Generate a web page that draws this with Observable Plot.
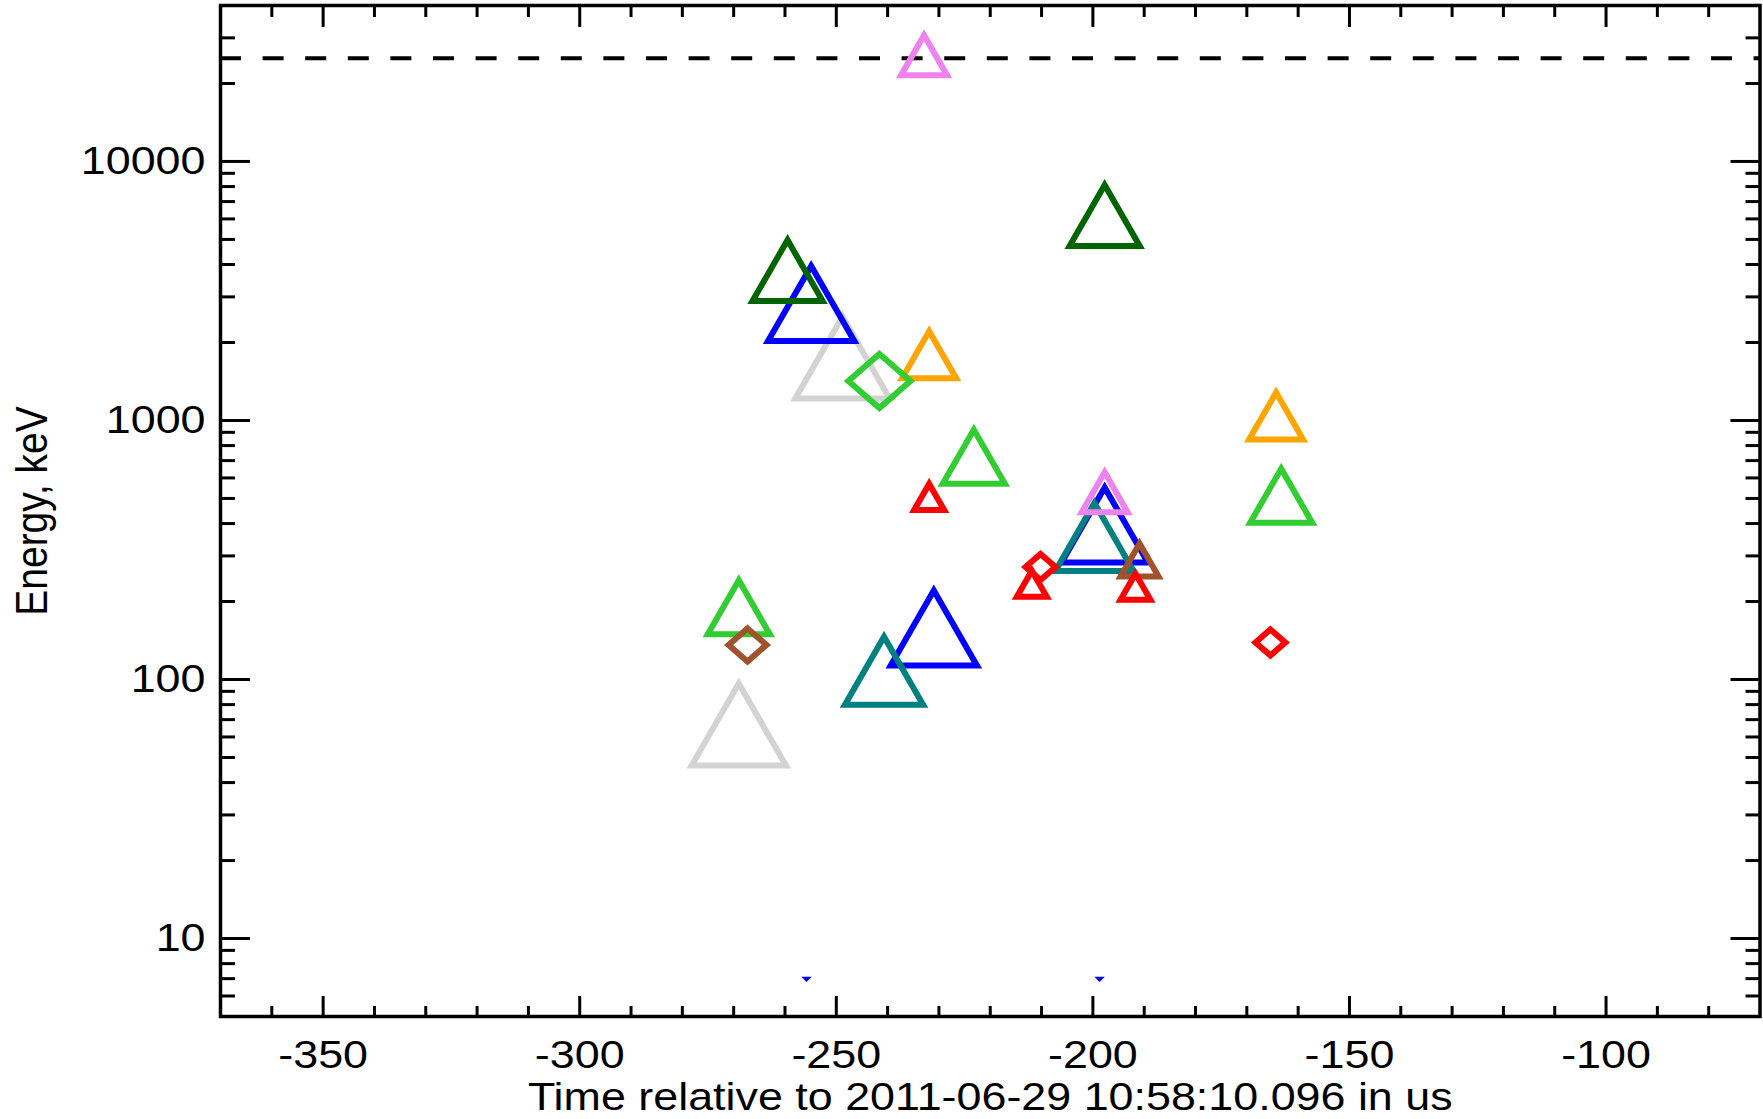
<!DOCTYPE html>
<html>
<head>
<meta charset="utf-8">
<script src="https://cdn.jsdelivr.net/npm/d3@7"></script>
<script src="https://cdn.jsdelivr.net/npm/@observablehq/plot@0.6"></script>
<style>
  html, body { margin: 0; padding: 0; background: #fff; }
</style>
</head>
<body>
<div id="chart"></div>
<script>
// ---- categories: detector channels and their colours ----
const channelIds = [1, 2, 3, 4, 5, 6, 7, 8, 9];
const channelColors = ["#ff0000", "#a0522d", "#ee82ee", "#ffa500", "#32cd32", "#006400", "#008080", "#0000ff", "#d3d3d3"];

// ---- events: time (us), energy (keV), channel, marker kind ----
const time    = [-248.8, -269.0, -254.9, -197.7, -231.0, -199.7, -240.7, -259.5, -197.7, -241.6, -223.2, -269.0, -163.3, -231.9, -164.3, -232.9, -197.7, -267.3, -190.9, -231.9, -211.9, -191.7, -210.2, -165.4];
const energy  = [1750,   67,     2830,   395,    158,    355,    108,    3790,   6180,   1420,   724,    190,    512,    1795,   1040,   25700,  528,    136,    289,    507,    234,    228,    272,    139];
const channel = [9,      9,      8,      8,      8,      7,      7,      6,      6,      5,      5,      5,      5,      4,      4,      3,      3,      2,      2,      1,      1,      1,      1,      1];
const marker  = ["tri",  "tri",  "tri",  "tri",  "tri",  "tri",  "tri",  "tri",  "tri",  "dia",  "tri",  "tri",  "tri",  "tri",  "tri",  "tri",  "tri",  "dia",  "tri",  "tri",  "tri",  "tri",  "dia",  "dia"];

// ---- small below-range markers ----
const lowTime   = [-255.8, -198.7];
const lowEnergy = [6.95, 6.95];

// ---- threshold line ----
const threshold = 25000;

// ---- axis ticks ----
const xTicks = [-350, -300, -250, -200, -150, -100];
const xMinor = d3.range(-360, -70, 10).filter(v => v % 50 !== 0);
const yTicks = [10, 100, 1000, 10000];
const yMinor = [6, 7, 8, 9, 20, 30, 40, 50, 60, 70, 80, 90, 200, 300, 400, 500, 600, 700, 800, 900,
                2000, 3000, 4000, 5000, 6000, 7000, 8000, 9000, 20000, 30000];

const xTitle = "Time relative to 2011-06-29 10:58:10.096 in us";
const yTitle = "Energy, keV";

// ---- build table ----
const events = time.map((t, i) => ({time: t, energy: energy[i], channel: channel[i], marker: marker[i]}));
const lows = lowTime.map((t, i) => ({time: t, energy: lowEnergy[i]}));

// IDL-like symbols (slightly wider than tall)
const STRETCH = 1.15;
const triUp = {draw(ctx, size) { const r = Math.sqrt(size / Math.PI), w = r * STRETCH;
  ctx.moveTo(0, -r); ctx.lineTo(w, r); ctx.lineTo(-w, r); ctx.closePath(); }};
const diamond = {draw(ctx, size) { const r = Math.sqrt(size / Math.PI), w = r * STRETCH;
  ctx.moveTo(0, -r); ctx.lineTo(w, 0); ctx.lineTo(0, r); ctx.lineTo(-w, 0); ctx.closePath(); }};
const triDown = {draw(ctx, size) { const r = Math.sqrt(size / Math.PI), w = r * 2;
  ctx.moveTo(-w, -r); ctx.lineTo(w, -r); ctx.lineTo(0, r); ctx.closePath(); }};

const fmt = d => String(d);
const blank = () => "";

const chart = Plot.plot({
  width: 1763,
  height: 1119,
  marginLeft: 220,
  marginRight: 3.5,
  marginTop: 5,
  marginBottom: 103,
  style: {fontFamily: "'Liberation Sans', Arial, Helvetica, sans-serif", fontSize: "39px", background: "#fff", color: "#000"},
  x: {domain: [-370, -70]},
  y: {type: "log", domain: [5, 40000]},
  r: {type: "linear", domain: [1, 9], range: [13, 41]},
  color: {domain: channelIds, range: channelColors},
  marks: [
    Plot.ruleY([threshold], {stroke: "#000", strokeWidth: 4, strokeDasharray: "21 21.6"}),
    Plot.dot(events, {filter: d => d.marker === "tri", x: "time", y: "energy", r: "channel", stroke: "channel",
      symbol: triUp, fill: "none", strokeWidth: 6, strokeLinejoin: "miter", strokeMiterlimit: 10}),
    Plot.dot(events, {filter: d => d.marker === "dia", x: "time", y: "energy", r: "channel", stroke: "channel",
      symbol: diamond, fill: "none", strokeWidth: 6, strokeLinejoin: "miter", strokeMiterlimit: 10}),
    Plot.dot(lows, {x: "time", y: "energy", symbol: triDown, r: 2.6, fill: "#0000ff", stroke: "none"}),
    Plot.frame({stroke: "#000", strokeWidth: 3.5}),
    // inward ticks on all four sides
    Plot.axisX(xTicks, {anchor: "bottom", tickSize: -20, strokeWidth: 3, tickFormat: blank, label: null}),
    Plot.axisX(xMinor, {anchor: "bottom", tickSize: -10, strokeWidth: 3, tickFormat: blank, label: null}),
    Plot.axisX(xTicks, {anchor: "top", tickSize: -21, strokeWidth: 3, tickFormat: blank, label: null}),
    Plot.axisX(xMinor, {anchor: "top", tickSize: -11, strokeWidth: 3, tickFormat: blank, label: null}),
    Plot.axisY(yTicks, {anchor: "left", tickSize: -30, strokeWidth: 3, tickFormat: blank, label: null}),
    Plot.axisY(yMinor, {anchor: "left", tickSize: -15, strokeWidth: 3, tickFormat: blank, label: null}),
    Plot.axisY(yTicks, {anchor: "right", tickSize: -30, strokeWidth: 3, tickFormat: blank, label: null}),
    Plot.axisY(yMinor, {anchor: "right", tickSize: -15, strokeWidth: 3, tickFormat: blank, label: null}),
    // labels
    Plot.axisX(xTicks, {anchor: "bottom", tickSize: 0, tickPadding: 24, tickFormat: fmt, label: null}),
    Plot.axisY(yTicks, {anchor: "left", tickSize: 0, tickPadding: 15, tickFormat: fmt, label: null}),
    Plot.text([xTitle], {text: d => d, frameAnchor: "bottom", textAnchor: "middle", lineAnchor: "top", dy: 66}),
    Plot.text([yTitle], {text: d => d, frameAnchor: "left", textAnchor: "middle", lineAnchor: "top", rotate: -90, dx: -205})
  ]
});

// horizontal stretch of lettering, as in the reference
chart.querySelectorAll("text").forEach(t => {
  let tr = t.getAttribute("transform");
  if (!tr) {
    const xa = t.getAttribute("x");
    const x = xa !== null && !/em/.test(xa) ? +xa : 0;
    if (xa !== null && !/em/.test(xa)) t.setAttribute("x", 0);
    tr = `translate(${x},0)`;
  }
  if (/rotate/.test(tr)) tr += ` scale(1,${STRETCH})`;
  else tr += ` scale(${STRETCH},1)`;
  t.setAttribute("transform", tr);
});

document.getElementById("chart").appendChild(chart);
</script>
</body>
</html>
